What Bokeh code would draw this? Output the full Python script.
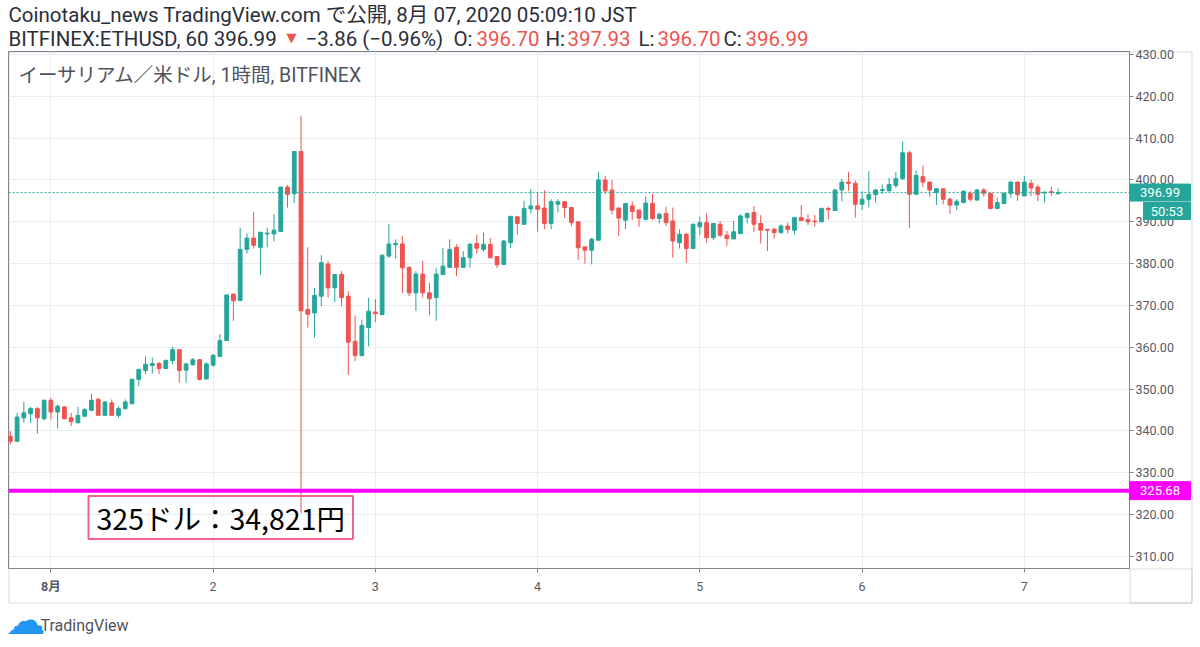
from bokeh.plotting import figure
from bokeh.models import (FixedTicker, PrintfTickFormatter, Span, Label,
                          BoxAnnotation, ColumnDataSource, Range1d)
from bokeh.embed import file_html
from bokeh.resources import INLINE

# ---- data: hourly candles, hours relative to 2020-08-01 00:00 JST ----
hours = list(range(-6, 150))
opens = [338.7, 337.5, 343.1, 344.1, 345.3, 342.9, 347.3, 344.5, 345.7, 343.1,
         341.9, 343.5, 344.9, 347.5, 343.7, 346.7, 343.7, 345.3, 346.5, 352.3,
         354.4, 355.6, 356.1, 354.9, 356.8, 359.4, 354.5, 355.8, 357.0, 352.4,
         355.7, 357.8, 361.6, 372.7, 371.2, 383.4, 386.1, 383.9, 387.1, 387.1,
         387.7, 398.3, 396.7, 406.8, 369.0, 368.2, 372.2, 379.9, 374.2, 377.4,
         372.2, 361.4, 358.0, 364.7, 368.4, 367.8, 381.8, 384.5, 384.7, 379.1,
         373.0, 377.5, 373.0, 371.9, 377.4, 379.1, 383.9, 379.1, 381.4, 384.8,
         383.4, 384.6, 381.7, 379.8, 385.0, 391.2, 389.4, 393.1, 393.8, 393.3,
         389.6, 394.2, 394.8, 393.4, 390.0, 384.0, 383.2, 385.6, 400.0, 397.6,
         393.3, 390.4, 393.8, 392.8, 390.6, 394.4, 390.8, 392.0, 390.2, 385.0,
         387.0, 383.6, 388.8, 389.8, 386.2, 389.4, 386.8, 385.9, 387.2, 391.0,
         392.2, 389.6, 388.2, 388.2, 387.4, 389.0, 388.0, 391.0, 390.5, 390.2,
         390.0, 393.2, 392.7, 397.6, 399.5, 399.2, 394.2, 395.4, 396.5, 397.5,
         397.4, 398.7, 400.3, 406.5, 396.6, 400.8, 399.5, 397.0, 397.9, 395.4,
         394.0, 394.6, 396.8, 395.2, 397.6, 396.8, 393.2, 394.4, 396.8, 399.5,
         396.2, 399.2, 398.3, 396.9, 397.2, 396.70]
highs = [339.9, 344.3, 346.9, 345.7, 345.7, 347.5, 347.9, 346.3, 345.9, 344.3,
         345.7, 345.5, 348.9, 347.9, 347.1, 347.5, 345.9, 347.5, 352.5, 354.8,
         357.8, 357.5, 356.5, 357.1, 360.1, 359.4, 356.3, 357.4, 357.2, 356.4,
         358.3, 363.2, 372.5, 372.8, 388.6, 387.2, 392.4, 387.5, 388.6, 391.8,
         398.4, 398.8, 406.9, 415.4, 383.9, 374.2, 382.0, 380.6, 377.4, 378.2,
         373.4, 367.6, 366.6, 371.8, 371.5, 382.2, 389.4, 385.8, 386.6, 379.4,
         378.2, 380.7, 375.4, 379.0, 383.8, 385.8, 384.6, 383.0, 385.0, 386.9,
         387.4, 386.1, 381.8, 385.6, 391.4, 391.3, 395.0, 397.8, 397.0, 397.6,
         395.4, 395.4, 394.9, 393.5, 390.1, 384.1, 386.2, 402.0, 401.0, 400.0,
         393.4, 394.5, 394.9, 392.9, 396.1, 396.6, 392.2, 393.6, 393.4, 388.2,
         387.4, 389.6, 391.2, 392.0, 389.6, 390.2, 387.8, 390.2, 391.8, 392.2,
         393.8, 391.6, 388.3, 388.6, 389.4, 389.8, 391.2, 394.0, 391.8, 391.6,
         393.4, 393.6, 397.9, 400.3, 401.9, 399.9, 397.3, 402.1, 397.9, 398.9,
         400.5, 401.9, 409.2, 407.0, 402.3, 403.5, 399.6, 398.1, 398.0, 395.8,
         395.4, 397.6, 397.3, 397.9, 398.1, 397.0, 395.8, 397.0, 399.7, 399.7,
         400.9, 400.0, 398.9, 397.2, 398.4, 397.93]
lows = [336.7, 337.4, 341.9, 341.9, 339.3, 342.5, 342.7, 340.5, 342.7, 341.1,
        341.9, 343.3, 344.7, 343.7, 343.7, 343.7, 343.1, 345.1, 346.3, 350.7,
        353.6, 353.7, 353.6, 354.8, 355.9, 351.5, 351.5, 355.6, 352.0, 352.3,
        355.3, 357.6, 361.5, 366.3, 371.0, 382.4, 383.6, 377.3, 383.9, 385.3,
        387.6, 393.4, 394.5, 320.3, 364.7, 362.3, 369.8, 371.9, 370.8, 369.8,
        353.4, 356.7, 357.8, 360.2, 366.0, 367.6, 381.4, 381.2, 373.0, 372.2,
        368.7, 371.9, 367.6, 366.3, 377.4, 379.0, 377.0, 379.0, 379.1, 382.4,
        382.9, 381.3, 378.9, 379.7, 383.7, 386.9, 389.4, 392.0, 387.6, 388.2,
        388.2, 392.2, 390.9, 389.0, 380.9, 380.0, 379.8, 385.6, 396.6, 391.8,
        386.6, 388.2, 390.4, 388.8, 390.3, 390.4, 389.6, 389.0, 381.4, 383.6,
        380.2, 383.6, 386.8, 385.0, 385.6, 386.4, 384.2, 385.9, 387.0, 389.6,
        387.6, 384.8, 383.0, 386.0, 387.2, 387.2, 387.0, 390.2, 389.2, 388.8,
        389.9, 390.6, 392.6, 394.9, 397.4, 391.0, 392.8, 393.4, 394.6, 396.6,
        397.3, 398.1, 400.0, 388.5, 396.5, 398.3, 396.0, 394.0, 394.2, 391.9,
        392.8, 394.4, 394.9, 395.0, 396.0, 393.0, 393.0, 394.2, 395.8, 395.0,
        396.2, 396.2, 394.9, 394.6, 396.2, 396.70]
closes = [337.5, 343.3, 344.3, 345.3, 343.1, 347.3, 344.5, 345.9, 342.9, 342.2,
          343.7, 345.1, 347.3, 343.7, 346.9, 343.7, 345.3, 346.9, 352.3, 354.7,
          355.9, 356.1, 354.9, 356.8, 359.4, 354.4, 356.0, 357.0, 352.3, 356.0,
          358.1, 361.6, 372.5, 371.1, 383.4, 386.1, 384.4, 387.5, 387.3, 388.0,
          398.3, 396.6, 406.8, 368.7, 367.9, 372.4, 380.2, 374.2, 377.4, 371.9,
          361.2, 358.0, 365.2, 368.6, 368.0, 382.0, 384.7, 384.8, 379.0, 373.0,
          377.5, 373.0, 371.6, 377.5, 379.4, 383.4, 379.1, 381.4, 384.6, 383.7,
          384.6, 381.4, 379.7, 385.4, 391.3, 389.6, 393.2, 393.8, 393.0, 389.6,
          394.8, 394.8, 393.4, 389.8, 383.8, 383.2, 385.8, 400.0, 397.4, 392.8,
          390.9, 394.4, 392.5, 390.9, 394.5, 390.8, 391.8, 389.8, 385.4, 387.0,
          383.6, 389.4, 389.8, 386.2, 389.6, 386.8, 386.0, 387.6, 391.4, 392.0,
          389.4, 388.0, 388.0, 387.4, 389.0, 388.2, 391.0, 390.3, 390.0, 390.0,
          393.2, 392.9, 397.6, 399.5, 399.2, 394.2, 395.4, 396.5, 397.6, 397.7,
          398.9, 400.3, 406.5, 396.6, 401.1, 399.5, 397.6, 397.9, 395.4, 394.0,
          394.9, 397.3, 395.4, 397.6, 396.8, 393.2, 394.6, 396.8, 399.5, 396.5,
          399.5, 398.1, 396.6, 397.1, 397.0, 396.99]

day_ticks = [0, 24, 48, 72, 96, 120, 144]
day_labels = ["8月", "2", "3", "4", "5", "6", "7"]
price_ticks = [310, 320, 330, 340, 350, 360, 370, 380, 390, 400, 410, 420, 430]

last_price = 396.99
level_price = 325.68
countdown = "50:53"
header_line1 = "Coinotaku_news TradingView.com で公開, 8月 07, 2020 05:09:10 JST"
header_line2 = [("BITFINEX:ETHUSD, 60 396.99", False), ("−3.86 (−0.96%)", False),
                ("O:", False), ("396.70", True), ("H:", False), ("397.93", True),
                ("L:", False), ("396.70", True), ("C:", False), ("396.99", True)]
pane_title = "イーサリアム／米ドル, 1時間, BITFINEX"
note_text = "325ドル：34,821円"

UP = "#26a69a"
DOWN = "#ef5350"
MAGENTA = "#ff00ff"
BORDER = "#80848c"
AXIS_TXT = "#555a64"
GRID = "#e8edf3"
HDR = "#2a2e39"
FONT = "Roboto, Noto Sans CJK JP"

W, H = 1200, 647
BL, BR, BT, BB = 8, 71, 51, 79          # borders around the price pane
X0, X1 = -6.27, 159.56                  # visible hours
Y0, Y1 = 307.06, 430.74                 # visible prices

p = figure(width=W, height=H, output_backend="svg", toolbar_location=None,
           x_range=Range1d(X0, X1), y_range=Range1d(Y0, Y1),
           y_axis_location="right", min_border_left=BL, min_border_right=BR,
           min_border_top=BT, min_border_bottom=BB)
p.styles = {"position": "absolute", "left": "0px", "top": "0px"}
p.outline_line_color = BORDER
p.background_fill_color = "white"
p.border_fill_color = "white"

p.yaxis.ticker = FixedTicker(ticks=price_ticks)
p.yaxis.formatter = PrintfTickFormatter(format="%.2f")
p.xaxis.ticker = FixedTicker(ticks=day_ticks)
overrides = {t: lab for t, lab in zip(day_ticks, day_labels)}
overrides[day_ticks[0]] = ""
p.xaxis.major_label_overrides = overrides
for ax in (p.xaxis, p.yaxis):
    ax.axis_line_color = None
    ax.major_tick_in = 0
    ax.major_tick_out = 4
    ax.major_tick_line_color = BORDER
    ax.minor_tick_line_color = None
    ax.major_label_text_color = AXIS_TXT
    ax.major_label_text_font = FONT
    ax.major_label_text_font_size = "12.5px"
p.yaxis.major_label_standoff = 2
p.xaxis.major_label_standoff = 9

p.xgrid.ticker = FixedTicker(ticks=day_ticks)
p.ygrid.ticker = FixedTicker(ticks=price_ticks)
p.xgrid.grid_line_color = GRID
p.ygrid.grid_line_color = GRID

colors = [UP if c >= o else DOWN for o, c in zip(opens, closes)]
src = ColumnDataSource(dict(
    x=hours, o=opens, h=highs, l=lows, c=closes,
    top=[max(o, c) for o, c in zip(opens, closes)],
    bottom=[min(o, c) for o, c in zip(opens, closes)],
    color=colors))
p.segment(x0="x", y0="l", x1="x", y1="h", line_color="color", line_width=1, source=src)
p.vbar(x="x", width=0.56, top="top", bottom="bottom", fill_color="color",
       line_color="color", line_width=1, source=src)

p.add_layout(Span(location=last_price, dimension="width", line_color=UP,
                  line_width=1, line_dash="2 2"))
p.add_layout(Span(location=level_price, dimension="width", line_color=MAGENTA,
                  line_width=4))

p.add_layout(Label(x=80, x_units="screen", y=51, y_units="screen",
                   text=note_text, text_align="left", text_baseline="middle",
                   text_color="black", text_font="Noto Sans CJK JP",
                   text_font_size="28.5px", border_line_color="#f06292",
                   border_line_width=2, background_fill_alpha=0, padding=(8, 1)))
p.add_layout(Label(x=10, x_units="screen", y=493, y_units="screen",
                   text=pane_title, text_align="left", text_baseline="middle",
                   text_color="#50535e", text_font=FONT, text_font_size="19.5px"))

# ---- transparent overlay sharing the same price/time mapping ----
fw = W - BL - BR
fh = H - BT - BB
sx = (X1 - X0) / fw
sy = (Y1 - Y0) / fh
OX0 = X0 - BL * sx
OY1 = Y1 + BT * sy
ov = figure(width=W, height=H, output_backend="svg", toolbar_location=None,
            x_range=Range1d(OX0, X1 + BR * sx),
            y_range=Range1d(Y0 - BB * sy, OY1),
            x_axis_type=None, y_axis_type=None, min_border=0,
            min_border_left=0, min_border_right=0, min_border_top=0,
            min_border_bottom=0)
ov.styles = {"position": "absolute", "left": "0px", "top": "0px"}
ov.grid.visible = False
ov.outline_line_color = None
ov.background_fill_color = None
ov.border_fill_color = None


def xd(px):
    return OX0 + px * sx


def yd(py):
    return OY1 - py * sy


def lab(x, y, text, color=HDR, size="20.5px", font=FONT, xu="screen", yu="screen", **kw):
    ov.add_layout(Label(x=x, y=y, x_units=xu, y_units=yu, text=text,
                        text_align=kw.pop("align", "left"), text_baseline="middle",
                        text_color=color, text_font=font, text_font_size=size, **kw))


# outer panel frames
ov.add_layout(BoxAnnotation(left=BL + 0.5, right=W - 8.5, top=H - BT - 0.5, bottom=44.5,
                            left_units="screen", right_units="screen",
                            top_units="screen", bottom_units="screen",
                            fill_alpha=0, line_color=BORDER, line_width=1))
ov.add_layout(BoxAnnotation(left=W - BR + 0.5, right=W - 8.5, top=BB - 0.5, bottom=44.5,
                            left_units="screen", right_units="screen",
                            top_units="screen", bottom_units="screen",
                            fill_alpha=0, line_color=BORDER, line_width=1))

# header
lab(8, H - 14, header_line1)
line2_x = [8, 305, 453, 476, 545, 567, 638, 657, 723, 745]
for (txt, red), px in zip(header_line2, line2_x):
    lab(px, H - 38, txt, color=DOWN if red else HDR)
lab(286, H - 37, "▼", color=DOWN, size="13px", font="DejaVu Sans")

# price tags on the axis
tag_x = [xd(1159.5), xd(1166.5), xd(1159.5)]
tag_y = [last_price, yd(210.5), level_price]
tag_w = [61, 47, 61]
tag_h = [17, 17, 18]
tag_c = [UP, UP, MAGENTA]
tag_t = [f"{last_price:.2f}", countdown, f"{level_price:.2f}"]
ov.rect(x=tag_x, y=tag_y, width=tag_w, height=tag_h, width_units="screen",
        height_units="screen", fill_color=tag_c, line_color=tag_c)
for tx, ty, tt in zip(tag_x, tag_y, tag_t):
    lab(tx, ty, tt, color="white", size="13px", xu="data", yu="data", align="center")

# bold month label on the time axis
lab(day_ticks[0], H - 586, day_labels[0], color=AXIS_TXT, size="12.5px",
    xu="data", align="center", text_font_style="bold")

# footer logo
lab(5, H - 619, "☁", color="#2196f3", size="40px", font="DejaVu Sans")
lab(40, H - 625, "TradingView", color="#50535e", size="16px")

open("out.html", "w").write(file_html([p, ov], INLINE))
